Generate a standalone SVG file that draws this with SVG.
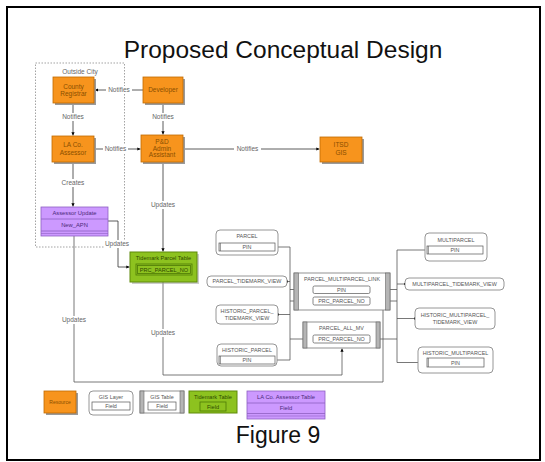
<svg xmlns="http://www.w3.org/2000/svg" width="545" height="462" viewBox="0 0 545 462">
  <defs>
    <marker id="arr" viewBox="0 0 6 6" refX="6" refY="3" markerWidth="4" markerHeight="4" orient="auto">
      <path d="M0,0 L6,3 L0,6 Z" fill="#000"/>
    </marker>
    <marker id="dot" viewBox="0 0 4 4" refX="2" refY="2" markerWidth="3" markerHeight="3">
      <circle cx="2" cy="2" r="2" fill="#000"/>
    </marker>
  </defs>
  <style>
    text { font-family: "Liberation Sans", Arial, sans-serif; text-anchor: middle; }
    .title { font-size: 24.5px; fill: #111; }
    .cap { font-size: 23px; fill: #111; }
    .lbl { font-size: 6.5px; fill: #666; }
    .res { fill: #F7941D; stroke: #C06A00; stroke-width: 0.8; }
    .shadow { fill: #9a9a9a; }
    .rt { font-size: 6.5px; fill: #8a4f00; }
    .tm { fill: #8DC21F; stroke: #5E8A0A; stroke-width: 1; }
    .tmf { fill: none; stroke: #4E7A05; stroke-width: 0.8; }
    .tmt { font-size: 5.6px; fill: #2f4a00; }
    .la { fill: #CC99FF; stroke: #8E5FC2; stroke-width: 0.8; }
    .lat { font-size: 5.8px; fill: #4b2a7a; }
    .gl { fill: #fff; stroke: #8a8a8a; stroke-width: 0.9; }
    .gt { fill: #fff; stroke: #777; stroke-width: 0.8; }
    .bar { fill: #b5b5b5; stroke: #666; stroke-width: 0.6; }
    .fld { fill: #fff; stroke: #555; stroke-width: 0.7; }
    .gtx { font-size: 5.4px; fill: #555; }
    .wire { fill: none; stroke: #555; stroke-width: 0.8; }
    .wirek { fill: none; stroke: #333; stroke-width: 0.8; }
    .gap { fill: #fff; }
  </style>

  <!-- page frame -->
  <rect x="7" y="7" width="533" height="453" fill="#fff" stroke="#000" stroke-width="2"/>

  <text class="title" x="283" y="58">Proposed Conceptual Design</text>

  <!-- Outside City boundary -->
  <g id="outside-city">
    <rect x="35.5" y="63" width="89" height="184" fill="none" stroke="#999" stroke-width="0.9" stroke-dasharray="1.5,1.5"/>
    <text class="lbl" x="80" y="74">Outside City</text>
  </g>

  <!-- connectors -->
  <g id="connectors">
    <!-- Developer -> County Registrar -->
    <line class="wirek" x1="143" y1="90" x2="95" y2="90" marker-end="url(#arr)"/>
    <rect class="gap" x="106" y="86" width="26" height="8"/>
    <text class="lbl" x="119" y="92.3">Notifies</text>
    <!-- County Registrar -> LA Co. Assessor -->
    <line class="wirek" x1="73" y1="103" x2="73" y2="135.5" marker-end="url(#arr)"/>
    <rect class="gap" x="61" y="113" width="24" height="8"/>
    <text class="lbl" x="73" y="119.3">Notifies</text>
    <!-- Developer -> P&D -->
    <line class="wirek" x1="163" y1="103" x2="163" y2="134.5" marker-end="url(#arr)"/>
    <rect class="gap" x="151" y="113" width="24" height="8"/>
    <text class="lbl" x="163" y="119.3">Notifies</text>
    <!-- LA Co. Assessor -> P&D -->
    <line class="wirek" x1="94" y1="149" x2="140.5" y2="149" marker-end="url(#arr)"/>
    <rect class="gap" x="103" y="145" width="25" height="8"/>
    <text class="lbl" x="115.5" y="151.3">Notifies</text>
    <!-- P&D -> ITSD -->
    <line class="wirek" x1="183" y1="149" x2="319.5" y2="149" marker-end="url(#arr)"/>
    <rect class="gap" x="234" y="145" width="27" height="8"/>
    <text class="lbl" x="247.5" y="151.3">Notifies</text>
    <!-- LA Co. Assessor -> Assessor Update -->
    <line class="wirek" x1="73" y1="162" x2="73" y2="206.5" marker-end="url(#arr)"/>
    <rect class="gap" x="62" y="179" width="22" height="8"/>
    <text class="lbl" x="73" y="185.3">Creates</text>
    <!-- P&D -> Tidemark -->
    <line class="wirek" x1="163" y1="162" x2="163" y2="251.5" marker-end="url(#arr)"/>
    <rect class="gap" x="151" y="201" width="24" height="8"/>
    <text class="lbl" x="163" y="207.3">Updates</text>
    <!-- Assessor Update -> Tidemark -->
    <polyline class="wirek" points="108,221 118,221 118,267 129.5,267" marker-end="url(#arr)"/>
    <rect class="gap" x="105" y="240" width="24" height="8"/>
    <text class="lbl" x="117" y="246.3">Updates</text>
    <!-- Assessor Update -> PARCEL_MULTIPARCEL_LINK.PRC_PARCEL_NO -->
    <polyline class="wire" points="74,236 74,382 383,382 383,301 371,301" marker-end="url(#arr)"/>
    <rect class="gap" x="62" y="316" width="24" height="8"/>
    <text class="lbl" x="74" y="322.3">Updates</text>
    <!-- Tidemark -> PARCEL_ALL_MV -->
    <polyline class="wire" points="163,282 163,375 342,375 342,348.5" marker-end="url(#arr)"/>
    <rect class="gap" x="151" y="329" width="24" height="8"/>
    <text class="lbl" x="163" y="335.3">Updates</text>

    <!-- left GIS bus -->
    <line class="wire" x1="275" y1="247" x2="290" y2="247" marker-start="url(#dot)"/>
    <line class="wire" x1="287" y1="281.5" x2="290" y2="281.5" marker-start="url(#dot)"/>
    <line class="wire" x1="278" y1="314.5" x2="290" y2="314.5" marker-start="url(#dot)"/>
    <line class="wire" x1="275" y1="360" x2="290" y2="360" marker-start="url(#dot)"/>
    <line class="wire" x1="290" y1="247" x2="290" y2="360"/>
    <line class="wire" x1="290" y1="289.5" x2="313" y2="289.5" marker-end="url(#arr)"/>
    <line class="wire" x1="290" y1="301" x2="313" y2="301" marker-end="url(#arr)"/>
    <line class="wire" x1="290" y1="339" x2="313" y2="339" marker-end="url(#arr)"/>

    <!-- right GIS bus -->
    <line class="wire" x1="370" y1="289.5" x2="397" y2="289.5" marker-start="url(#dot)"/>
    <line class="wire" x1="383" y1="301" x2="397" y2="301"/>
    <line class="wire" x1="370" y1="339" x2="397" y2="339" marker-start="url(#dot)"/>
    <line class="wire" x1="397" y1="250" x2="397" y2="362.5"/>
    <line class="wire" x1="397" y1="250" x2="427" y2="250" marker-end="url(#dot)"/>
    <line class="wire" x1="397" y1="284" x2="405" y2="284" marker-end="url(#dot)"/>
    <line class="wire" x1="397" y1="318.5" x2="415" y2="318.5" marker-end="url(#dot)"/>
    <line class="wire" x1="397" y1="362.5" x2="427" y2="362.5" marker-end="url(#dot)"/>
  </g>

  <!-- resources -->
  <g id="county-registrar">
    <rect class="shadow" x="55" y="79" width="41" height="26"/>
    <rect class="res" x="53" y="77" width="41" height="26"/>
    <text class="rt" x="73.5" y="88.5">County</text>
    <text class="rt" x="73.5" y="96">Registrar</text>
  </g>
  <g id="developer">
    <rect class="shadow" x="145" y="79" width="40" height="26"/>
    <rect class="res" x="143" y="77" width="40" height="26"/>
    <text class="rt" x="163" y="92.3">Developer</text>
  </g>
  <g id="la-co-assessor">
    <rect class="shadow" x="54" y="138" width="42" height="26"/>
    <rect class="res" x="52" y="136" width="42" height="26"/>
    <text class="rt" x="73" y="147.3">LA Co.</text>
    <text class="rt" x="73" y="155">Assessor</text>
  </g>
  <g id="pd-admin-assistant">
    <rect class="shadow" x="143" y="137" width="42" height="27"/>
    <rect class="res" x="141" y="135" width="42" height="27"/>
    <text class="rt" x="162" y="143.8">P&amp;D</text>
    <text class="rt" x="162" y="150.6">Admin</text>
    <text class="rt" x="162" y="157.4">Assistant</text>
  </g>
  <g id="itsd-gis">
    <rect class="shadow" x="322" y="139" width="42" height="25"/>
    <rect class="res" x="320" y="137" width="42" height="25"/>
    <text class="rt" x="341" y="147">ITSD</text>
    <text class="rt" x="341" y="154.5">GIS</text>
  </g>

  <!-- LA Co. Assessor table -->
  <g id="assessor-update">
    <rect class="la" x="41" y="207" width="67" height="29"/>
    <line x1="41" y1="219" x2="108" y2="219" stroke="#8E5FC2" stroke-width="0.8"/>
    <line x1="41" y1="231" x2="108" y2="231" stroke="#8E5FC2" stroke-width="0.8"/>
    <line x1="41" y1="233.5" x2="108" y2="233.5" stroke="#8E5FC2" stroke-width="0.6"/>
    <text class="lat" x="74.5" y="215.2">Assessor Update</text>
    <text class="lat" x="74.5" y="227.2">New_APN</text>
  </g>

  <!-- Tidemark table -->
  <g id="tidemark-parcel-table">
    <rect class="shadow" x="132" y="254" width="67" height="30" opacity="0.5"/>
    <rect class="tm" x="130" y="252" width="67" height="30"/>
    <text class="tmt" x="163.5" y="260">Tidemark Parcel Table</text>
    <rect class="tmf" x="136" y="264" width="56" height="11"/>
    <rect class="tmf" x="137.5" y="265.5" width="53" height="8"/>
    <text class="tmt" x="164" y="271.6">PRC_PARCEL_NO</text>
  </g>

  <!-- GIS layers, left -->
  <g id="parcel">
    <rect class="gl" x="216" y="230" width="62" height="25" rx="4"/>
    <text class="gtx" x="247" y="238">PARCEL</text>
    <rect class="fld" x="219" y="243" width="56" height="8"/>
    <line x1="220.3" y1="243" x2="220.3" y2="251" stroke="#555" stroke-width="0.7"/>
    <text class="gtx" x="247" y="249.2">PIN</text>
  </g>
  <g id="parcel-tidemark-view">
    <rect class="gl" x="207" y="276" width="80" height="11" rx="4"/>
    <text class="gtx" x="247" y="283.4">PARCEL_TIDEMARK_VIEW</text>
  </g>
  <g id="historic-parcel-tidemark-view">
    <rect class="gl" x="216" y="305" width="62" height="19" rx="4"/>
    <text class="gtx" x="247" y="312.5">HISTORIC_PARCEL_</text>
    <text class="gtx" x="247" y="320">TIDEMARK_VIEW</text>
  </g>
  <g id="historic-parcel">
    <rect class="gl" x="217" y="344" width="60" height="22" rx="4"/>
    <text class="gtx" x="247" y="351.5">HISTORIC_PARCEL</text>
    <rect class="fld" x="219" y="356" width="56" height="8"/>
    <line x1="220.3" y1="356" x2="220.3" y2="364" stroke="#555" stroke-width="0.7"/>
    <text class="gtx" x="247" y="362.2">PIN</text>
  </g>

  <!-- GIS tables -->
  <g id="parcel-multiparcel-link">
    <rect class="gt" x="294" y="273" width="96" height="37"/>
    <rect class="bar" x="294" y="273" width="4.5" height="37"/>
    <rect class="bar" x="385.5" y="273" width="4.5" height="37"/>
    <text class="gtx" x="342" y="281">PARCEL_MULTIPARCEL_LINK</text>
    <rect class="fld" x="313" y="286" width="57" height="7.5" rx="1.5"/>
    <text class="gtx" x="341.5" y="292">PIN</text>
    <rect class="fld" x="313" y="297" width="57" height="8" rx="1.5"/>
    <text class="gtx" x="341.5" y="303.2">PRC_PARCEL_NO</text>
  </g>
  <g id="parcel-all-mv">
    <rect class="gt" x="303" y="322" width="77" height="26"/>
    <rect class="bar" x="303" y="322" width="4" height="26"/>
    <rect class="bar" x="376" y="322" width="4" height="26"/>
    <text class="gtx" x="341.5" y="330">PARCEL_ALL_MV</text>
    <rect class="fld" x="313" y="335" width="57" height="8" rx="1.5"/>
    <text class="gtx" x="341.5" y="341.2">PRC_PARCEL_NO</text>
  </g>

  <!-- GIS layers, right -->
  <g id="multiparcel">
    <rect class="gl" x="425" y="233" width="62" height="28" rx="4"/>
    <text class="gtx" x="456" y="241.5">MULTIPARCEL</text>
    <rect class="fld" x="427" y="246" width="56" height="8"/>
    <line x1="428.3" y1="246" x2="428.3" y2="254" stroke="#555" stroke-width="0.7"/>
    <text class="gtx" x="455" y="252.2">PIN</text>
  </g>
  <g id="multiparcel-tidemark-view">
    <rect class="gl" x="405" y="278" width="99" height="12" rx="4"/>
    <text class="gtx" x="454.5" y="286">MULTIPARCEL_TIDEMARK_VIEW</text>
  </g>
  <g id="historic-multiparcel-tidemark-view">
    <rect class="gl" x="415" y="308" width="80" height="21" rx="4"/>
    <text class="gtx" x="455" y="316.5">HISTORIC_MULTIPARCEL_</text>
    <text class="gtx" x="455" y="324">TIDEMARK_VIEW</text>
  </g>
  <g id="historic-multiparcel">
    <rect class="gl" x="418" y="347" width="75" height="26" rx="4"/>
    <text class="gtx" x="455.5" y="354.5">HISTORIC_MULTIPARCEL</text>
    <rect class="fld" x="427" y="358" width="57" height="9"/>
    <line x1="428.3" y1="358" x2="428.3" y2="367" stroke="#555" stroke-width="0.7"/>
    <text class="gtx" x="455.5" y="364.8">PIN</text>
  </g>

  <!-- legend -->
  <g id="legend-resource">
    <rect class="shadow" x="46" y="393" width="32" height="22"/>
    <rect class="res" x="44" y="391" width="32" height="22"/>
    <text class="rt" x="60" y="404" style="font-size:5px">Resource</text>
  </g>
  <g id="legend-gis-layer">
    <rect class="gl" x="89" y="391" width="44" height="24" rx="4"/>
    <text class="gtx" x="111" y="398.5">GIS Layer</text>
    <rect class="fld" x="92" y="402" width="38" height="8"/>
    <text class="gtx" x="111" y="408">Field</text>
  </g>
  <g id="legend-gis-table">
    <rect class="gt" x="140" y="391" width="44" height="22"/>
    <rect class="bar" x="140" y="391" width="4" height="22"/>
    <rect class="bar" x="180" y="391" width="4" height="22"/>
    <text class="gtx" x="162" y="398.5">GIS Table</text>
    <rect class="fld" x="148" y="402" width="28" height="8"/>
    <text class="gtx" x="162" y="408">Field</text>
  </g>
  <g id="legend-tidemark-table">
    <rect class="tm" x="189" y="391" width="48" height="22"/>
    <text class="tmt" x="213" y="398.5">Tidemark Table</text>
    <rect class="tmf" x="200" y="402" width="26" height="9"/>
    <text class="tmt" x="213" y="408.5">Field</text>
  </g>
  <g id="legend-assessor-table">
    <rect class="la" x="247" y="391" width="78" height="28"/>
    <line x1="247" y1="403" x2="325" y2="403" stroke="#8E5FC2" stroke-width="0.8"/>
    <line x1="247" y1="413.5" x2="325" y2="413.5" stroke="#8E5FC2" stroke-width="0.8"/>
    <line x1="247" y1="416" x2="325" y2="416" stroke="#8E5FC2" stroke-width="0.6"/>
    <text class="lat" x="286" y="399.2">LA Co. Assessor Table</text>
    <text class="lat" x="286" y="410.2">Field</text>
  </g>

  <text class="cap" x="278" y="443">Figure 9</text>
</svg>
